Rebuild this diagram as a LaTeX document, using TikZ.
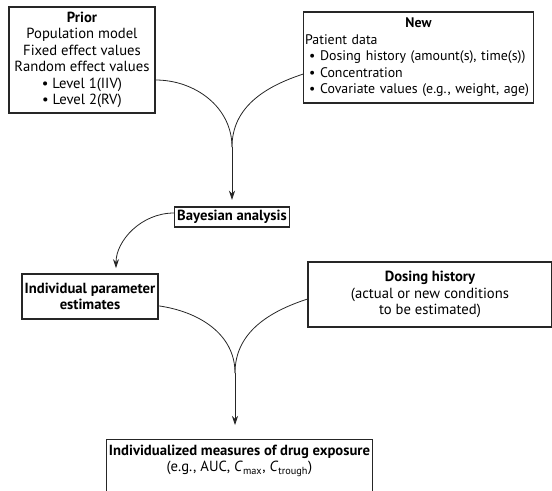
\documentclass[tikz,border=0pt]{standalone}
\usepackage{fontspec}
\setmainfont{PT Sans}
\usepackage{tikz}
\usetikzlibrary{arrows.meta,positioning}

\begin{document}
\begin{tikzpicture}[
  x=0.75pt, y=-0.75pt,
  font=\fontsize{11}{12.4}\selectfont,
  box/.style={rectangle, draw=black!85, line width=0.8pt, inner sep=2pt},
  link/.style={draw=black!85, line width=0.6pt},
  arrow/.style={-{Stealth[length=2.4mm, width=1.6mm]}, line width=0.6pt, draw=black!85}
]
\useasboundingbox (0,0) rectangle (552,490);
\clip (0,0) rectangle (552,490);
\node[box, align=center, minimum width=109.5pt, minimum height=79.5pt] (prior) at (82,60)
  {\textbf{Prior}\\ Population model\\ Fixed effect values\\ Random effect values\\ \textbullet\ Level 1(IIV)\\ \textbullet\ Level 2(RV)};
\node[box, align=left, font=\fontsize{10.4}{12.4}\selectfont, text width=170pt, inner xsep=1pt, minimum height=68.25pt] (new) at (418.5,57.5)
  {\hfill\textbf{New}\hfill\mbox{}\\ Patient data\\
   \hspace*{3pt}\textbullet\ Dosing history (amount(s), time(s))\\
   \hspace*{3pt}\textbullet\ Concentration\\
   \hspace*{3pt}\textbullet\ Covariate values (e.g., weight, age)};
\node[box, minimum width=85.5pt, minimum height=15pt] (bayes) at (232,217) {\textbf{Bayesian analysis}};
\node[box, align=center, minimum width=102pt, minimum height=33.75pt] (indiv) at (90,296.5)
  {\textbf{Individual parameter}\\ \textbf{estimates}};
\node[box, align=center, minimum width=183pt, minimum height=48.75pt] (dosing) at (430,294.5)
  {\textbf{Dosing history}\\ (actual or new conditions\\ to be estimated)};
\node[box, align=center, anchor=north, minimum width=198.75pt, inner ysep=4pt, text depth=50pt] (exposure) at (239.5,439)
  {\textbf{Individualized measures of drug exposure}\\ (e.g., AUC, \textit{C}\textsubscript{max}, \textit{C}\textsubscript{trough})};
\coordinate (join1) at (232,147);
\coordinate (join2) at (235,373);
\draw[link] ([yshift=-15pt]prior.east) to[out=0, in=90] (join1);
\draw[link] ([yshift=-12.4pt]new.west) to[out=198, in=90] (join1);
\draw[arrow, shorten >=5pt] (join1) -- (bayes.north);
\draw[arrow, shorten >=4pt] ([yshift=3pt]bayes.west) to[out=180, in=90] ([xshift=19.5pt]indiv.north);
\draw[link] ([yshift=-7pt]indiv.east) to[out=-8, in=90] (join2);
\draw[link] ([yshift=-3.4pt]dosing.west) to[out=198, in=90] (join2);
\draw[arrow, shorten >=10.5pt] (join2) -- (join2 |- exposure.north);
\end{tikzpicture}
\end{document}
